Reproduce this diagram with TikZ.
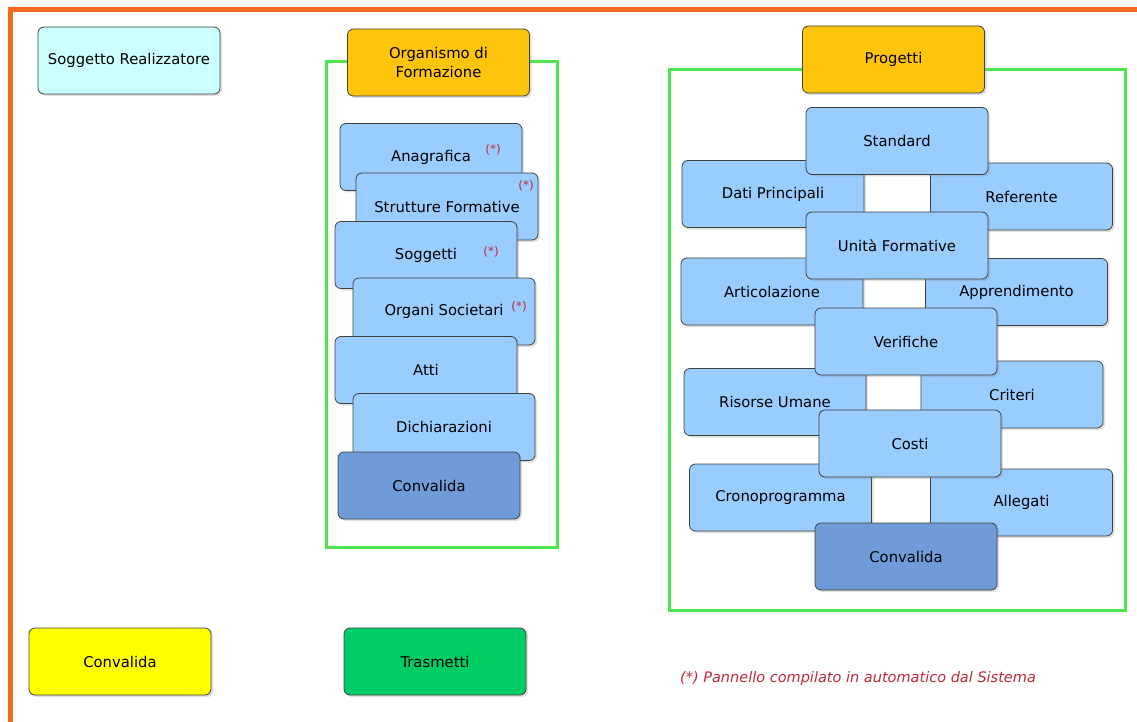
\documentclass[tikz,border=0pt]{standalone}
\usepackage{fontspec}
\setmainfont{DejaVu Sans}
\usetikzlibrary{shadows}
\definecolor{paneblue}{HTML}{99CCFF}
\definecolor{panedark}{HTML}{6F9BD8}
\definecolor{panegold}{HTML}{FFC40C}
\definecolor{panecyan}{HTML}{CCFFFF}
\definecolor{paneyellow}{HTML}{FFFF00}
\definecolor{panegreen}{HTML}{00CC66}
\definecolor{framegreen}{HTML}{4CE64C}
\definecolor{borderorange}{HTML}{F26B1D}
\definecolor{notered}{HTML}{C0283A}
\tikzstyle{panel} = [rectangle, rounded corners=6pt,
minimum width=182pt,
minimum height=67pt,
text centered,
draw=black!75,
line width=0.8pt,
fill=paneblue,
font=\fontsize{14.8}{19}\selectfont,
drop shadow={opacity=0.25, shadow xshift=2pt, shadow yshift=-2pt}]
\tikzstyle{frame} = [draw=framegreen, line width=3pt]
\tikzstyle{star} = [text=notered, font=\fontsize{12}{13}\selectfont, inner sep=0pt]

\begin{document}
\begin{tikzpicture}[x=1pt,y=-1pt]
        \useasboundingbox (0,0) rectangle (1137,722);
        \draw [borderorange, line width=5pt] (10,722) -- (10,10) -- (1137,10);
        \draw [frame] (326,62) rectangle (557,547);
        \draw [frame] (669,70) rectangle (1125,610);
        % left
        \node (realiz) [panel, fill=panecyan] at (129,60.5) {Soggetto Realizzatore};
        \node (organismo) [panel, fill=panegold, align=center] at (438.5,62.5) {Organismo di\\Formazione};
        \node (anag) [panel] at (431,157) {Anagrafica};
        \node (anagstar) [star] at (493,150) {(*)};
        \node (strut) [panel] at (447,206.5) {Strutture Formative};
        \node (strutstar) [star] at (526,186) {(*)};
        \node (sogg) [panel] at (426,255) {Soggetti};
        \node (soggstar) [star] at (491,252) {(*)};
        \node (organi) [panel] at (444,311.5) {Organi Societari};
        \node (organistar) [star] at (519,307) {(*)};
        \node (atti) [panel] at (426,370) {Atti};
        \node (dich) [panel] at (444,427) {Dichiarazioni};
        \node (convof) [panel, fill=panedark] at (429,485.5) {Convalida};
        \node (convalida) [panel, fill=paneyellow] at (120,661.5) {Convalida};
        \node (trasmetti) [panel, fill=panegreen] at (435,661.5) {Trasmetti};
        % right
        \node (progetti) [panel, fill=panegold] at (893.5,59.5) {Progetti};
        \node (dati) [panel] at (773,194) {Dati Principali};
        \node (refer) [panel] at (1021.5,196.5) {Referente};
        \node (artic) [panel] at (772,291.5) {Articolazione};
        \node (appr) [panel] at (1016.5,292) {Apprendimento};
        \node (risorse) [panel] at (775,402) {Risorse Umane};
        \node (criteri) [panel] at (1012,394.5) {Criteri};
        \node (crono) [panel] at (780.5,497.5) {Cronoprogramma};
        \node (allegati) [panel] at (1021.5,502.5) {Allegati};
        \node (standard) [panel] at (897,141) {Standard};
        \node (unita) [panel] at (897,245.5) {Unità Formative};
        \node (verifiche) [panel] at (906,341.5) {Verifiche};
        \node (costi) [panel] at (910,443.5) {Costi};
        \node (convprog) [panel, fill=panedark] at (906,556.5) {Convalida};
        \node (nota) [text=notered, font=\fontsize{14.5}{17}\selectfont\itshape] at (858,678) {(*) Pannello compilato in automatico dal Sistema};
    \end{tikzpicture}
\end{document}
